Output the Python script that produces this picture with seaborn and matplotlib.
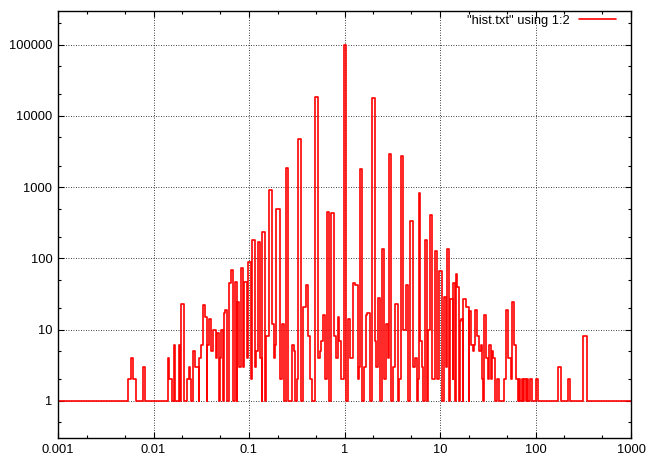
import pandas as pd
import seaborn as sns
import matplotlib.pyplot as plt
from matplotlib.ticker import LogLocator, NullFormatter

# INICIO DE CADA DEGRAU (x) E CONTAGEM DO DEGRAU
bin_x = [0.001, 0.00546, 0.00583, 0.00616, 0.00662, 0.00785, 0.00818, 0.01415, 0.0147, 0.01558,
         0.01635, 0.01688, 0.01828, 0.0189, 0.0195, 0.02082, 0.02254, 0.02326, 0.02383, 0.02483,
         0.02606, 0.02735, 0.02962, 0.03012, 0.03109, 0.03263, 0.03423, 0.03593, 0.03655, 0.03772,
         0.03958, 0.04154, 0.04509, 0.04653, 0.04885, 0.04967, 0.05125, 0.05379, 0.05471, 0.05646,
         0.05925, 0.06113, 0.06526, 0.06848, 0.07066, 0.07417, 0.07544, 0.07916, 0.0817, 0.08576,
         0.08868, 0.09443, 0.09768, 0.105, 0.1084, 0.1157,
         0.1194, 0.1232, 0.1315, 0.1357, 0.138, 0.1473, 0.152, 0.1606, 0.1727, 0.1813,
         0.1875, 0.1935, 0.2096, 0.2199, 0.2308, 0.2422, 0.2586, 0.28, 0.2938, 0.3039,
         0.319, 0.3292, 0.3513, 0.3687, 0.3926, 0.4121, 0.4397, 0.4616, 0.4963, 0.5298,
         0.556, 0.5738, 0.6022, 0.632, 0.6521, 0.6959, 0.7305, 0.7798, 0.8183, 0.8588,
         0.886, 0.9301, 0.9929, 1.049, 1.093, 1.148, 1.222, 1.282, 1.369, 1.413,
         1.461, 1.533, 1.61, 1.661, 1.73, 1.829, 1.92, 2.064, 2.15, 2.22,
         2.369, 2.444, 2.566, 2.692, 2.826, 2.916, 3.06, 3.212, 3.371, 3.597,
         3.712, 3.896, 4.089, 4.439, 4.659, 4.842, 5.256, 5.424, 5.692, 5.873,
         6.017, 6.224, 6.423, 6.693, 6.906, 7.246, 7.477, 7.847, 8.318, 8.943,
         9.385, 9.685, 9.849, 10.59, 11.01, 11.55, 11.95, 12.54, 12.72, 13.58,
         13.81, 14.5, 14.71, 15.21, 15.7, 16.2, 16.76, 17.29, 17.59, 18.73,
         19.99, 20.33, 21.34, 22.02, 22.72, 23.5, 24.66, 25.45, 26.71, 27.56,
         28.51, 28.93, 30.36, 31.86, 32.96, 34.01, 35.1, 36.3, 37.46, 39.31,
         41.25, 46.88, 49.68, 51.64, 55.12, 56.07, 59.69, 62.65, 64.81, 66.88,
         69.02, 71.39, 73.67, 76.02, 78.64, 81.15, 83.74, 86.62, 92.22, 101.6,
         106.6, 170.3, 184.5, 216.8, 227.6, 311.5, 345.6, 1000]

contagem = [1, 2, 4, 2, 1, 3, 1, 4, 2, 1,
            6, 1, 6, 1, 23, 1, 2, 3, 2, 1,
            5, 3, 1, 4, 6, 22, 15, 1, 6, 14,
            5, 10, 4, 9, 1, 4, 10, 1, 17, 19,
            1, 45, 69, 1, 47, 1, 24, 3, 73, 3,
            47, 4, 89, 2, 183, 3,
            5, 171, 4, 1, 231, 1, 8, 920, 12, 4,
            6, 497, 2, 12, 1, 1850, 1, 6, 5, 1,
            2, 4800, 1, 21, 42, 8, 2, 1, 18700, 4,
            5, 7, 16, 2, 445, 1, 440, 8, 4, 15,
            7, 2, 97500, 1, 14, 4, 45, 42, 2, 3,
            1790, 1, 3, 16, 17, 1, 18000, 7, 3, 28,
            1, 135, 2, 12, 4, 2900, 1, 3, 23, 1,
            2, 2700, 10, 42, 1, 330, 3, 4, 1, 2,
            820, 7, 3, 1, 183, 1, 10, 410, 2, 125,
            2, 10, 67, 1, 29, 3, 136, 1, 27, 2,
            45, 1, 61, 39, 1, 13, 14, 1, 27, 21,
            1, 18, 6, 5, 6, 19, 8, 5, 6, 2,
            1, 16, 4, 2, 6, 2, 5, 4, 1, 2,
            1, 2, 19, 4, 2, 24, 6, 2, 1, 2,
            1, 2, 1, 2, 1, 2, 1, 2, 1, 2,
            1, 3, 1, 2, 1, 8, 1, 1]

x_ticks = [0.001, 0.01, 0.1, 1, 10, 100, 1000]
x_labels = ["0.001", "0.01", "0.1", "1", "10", "100", "1000"]
y_ticks = [1, 10, 100, 1000, 10000, 100000]
y_labels = ["1", "10", "100", "1000", "10000", "100000"]
legenda = '"hist.txt" using 1:2'

# TEMA E FONTE (FONTE DEPOIS DO set_style)
sns.set_style("ticks", {"axes.edgecolor": "black", "text.color": "black",
                        "xtick.color": "black", "ytick.color": "black",
                        "xtick.direction": "in", "ytick.direction": "in"})
plt.rcParams['font.family'] = ['Liberation Sans', 'DejaVu Sans']

df = pd.DataFrame({"x": bin_x, "qtd": contagem})

fig = plt.figure(figsize=(6.47, 4.58), dpi=100)
ax = fig.add_axes([58 / 647, 20 / 458, 573 / 647, 427.3 / 458])

sns.lineplot(data=df, x="x", y="qtd", drawstyle="steps-post", estimator=None,
             sort=False, color="red", lw=1.2, label=legenda, ax=ax)

ax.set_xscale("log")
ax.set_yscale("log")
ax.set_xlim(0.001, 1000)
ax.set_ylim(0.3, 300000)

ax.set_xticks(x_ticks, labels=x_labels)
ax.set_yticks(y_ticks, labels=y_labels)
ax.xaxis.set_minor_locator(LogLocator(base=10, subs=(2, 5)))
ax.yaxis.set_minor_locator(LogLocator(base=10, subs=(2, 5)))
ax.xaxis.set_minor_formatter(NullFormatter())
ax.yaxis.set_minor_formatter(NullFormatter())
ax.tick_params(which="both", direction="in", top=True, right=True, labelsize=9.3, width=0.8)
ax.tick_params(which="major", length=4.5, pad=4)
ax.tick_params(which="minor", length=2.5)

ax.set_xlabel("")
ax.set_ylabel("")
ax.grid(True, which="major", color="black", linestyle=(0, (1, 2)), lw=0.6)
ax.set_axisbelow(True)
for s in ax.spines.values():
    s.set_visible(True)
    s.set_color("black")
    s.set_linewidth(1.0)

ax.legend(loc="upper right", bbox_to_anchor=(0.974, 0.99), frameon=False,
          markerfirst=False, handlelength=2.9, handletextpad=0.7,
          borderpad=0, borderaxespad=0, fontsize=9.3)

plt.savefig("out.png", dpi=100)
plt.close('all')
